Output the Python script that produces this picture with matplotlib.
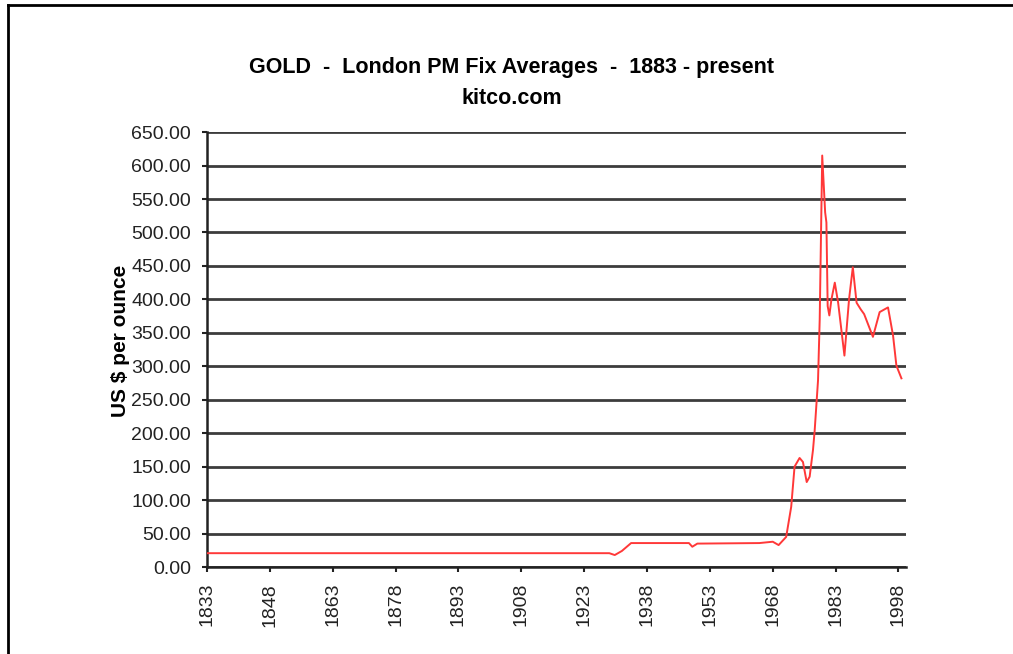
import numpy as np
import matplotlib

matplotlib.use("Agg")

import matplotlib.pyplot as plt
from matplotlib.lines import Line2D

# ==================================================
# DATA
# ==================================================

years = [
    1833, 1929, 1930.3, 1932.0, 1934.2, 1948.0, 1948.8, 1950.0,
    1964.8, 1968.0, 1969.4, 1971.2, 1972.4, 1973.2, 1974.4, 1975.2,
    1976.1, 1976.8, 1977.6, 1978.0, 1978.8, 1979.2, 1979.8,
    1980.5, 1980.8, 1981.1, 1981.5, 1982.0, 1982.8, 1983.6, 1985.1,
    1986.2, 1987.1, 1988.0, 1989.0, 1989.8, 1991.9, 1993.5, 1995.5,
    1996.7, 1997.5, 1998.7,
]

prices = [
    20.67, 20.67, 17.9, 24.0, 35.8, 35.8, 30.3, 35.0,
    35.8, 37.8, 32.8, 45.0, 90.0, 150.0, 163.0, 157.0,
    127.0, 135.0, 175.0, 204.0, 279.0, 370.0, 615.0,
    530.0, 515.0, 390.0, 376.0, 400.0, 425.0, 395.0, 316.0,
    400.0, 448.0, 395.0, 385.0, 378.0, 344.0, 381.0, 388.0,
    346.0, 301.0, 282.0,
]

tick_years = list(range(1833, 1999, 15))
y_ticks = list(range(0, 651, 50))

TITLE_1 = "GOLD  -  London PM Fix Averages  -  1883 - present"
TITLE_2 = "kitco.com"
Y_LABEL = "US $ per ounce"

# ==================================================
# FIGURE
# ==================================================

plt.rcParams["font.family"] = ["Liberation Sans", "DejaVu Sans"]

fig = plt.figure(figsize=(10.13, 6.54), dpi=100)
ax = fig.add_axes([0.2043, 0.133, 0.6897, 0.665])

# horizontal grid lines
for v in y_ticks:
    ax.axhline(v, color="#3c3c3c", linewidth=2, zorder=1)

ax.plot(years, prices, color="#ff3838", linewidth=1.4, zorder=3)

ax.set_xlim(1833, 1999.7)
ax.set_ylim(0, 650)

ax.set_xticks(tick_years)
ax.set_xticklabels([str(t) for t in tick_years], rotation=90, fontsize=14)
ax.set_yticks(y_ticks)
ax.set_yticklabels([f"{v:.2f}" for v in y_ticks], fontsize=14)

ax.tick_params(axis="both", direction="out", length=3.5, width=1.5,
               color="#222222", labelcolor="#222222", pad=8)

for side in ["top", "right"]:
    ax.spines[side].set_visible(False)
for side in ["left", "bottom"]:
    ax.spines[side].set_color("#222222")
    ax.spines[side].set_linewidth(1.8)

ax.set_ylabel(Y_LABEL, fontsize=15, weight="bold")
ax.yaxis.set_label_coords(-0.11, 0.52)

fig.text(0.505, 1 - 68 / 654, TITLE_1, ha="center", va="center",
         fontsize=15.5, weight="bold")
fig.text(0.505, 1 - 98 / 654, TITLE_2, ha="center", va="center",
         fontsize=15.5, weight="bold")

# outer frame (left and top edges visible in reference)
fig.add_artist(Line2D([0.008, 0.008], [0.0, 0.992], color="black",
                      linewidth=2, transform=fig.transFigure))
fig.add_artist(Line2D([0.008, 1.0], [0.992, 0.992], color="black",
                      linewidth=2, transform=fig.transFigure))

fig.savefig("out.png", dpi=100)
plt.close(fig)
